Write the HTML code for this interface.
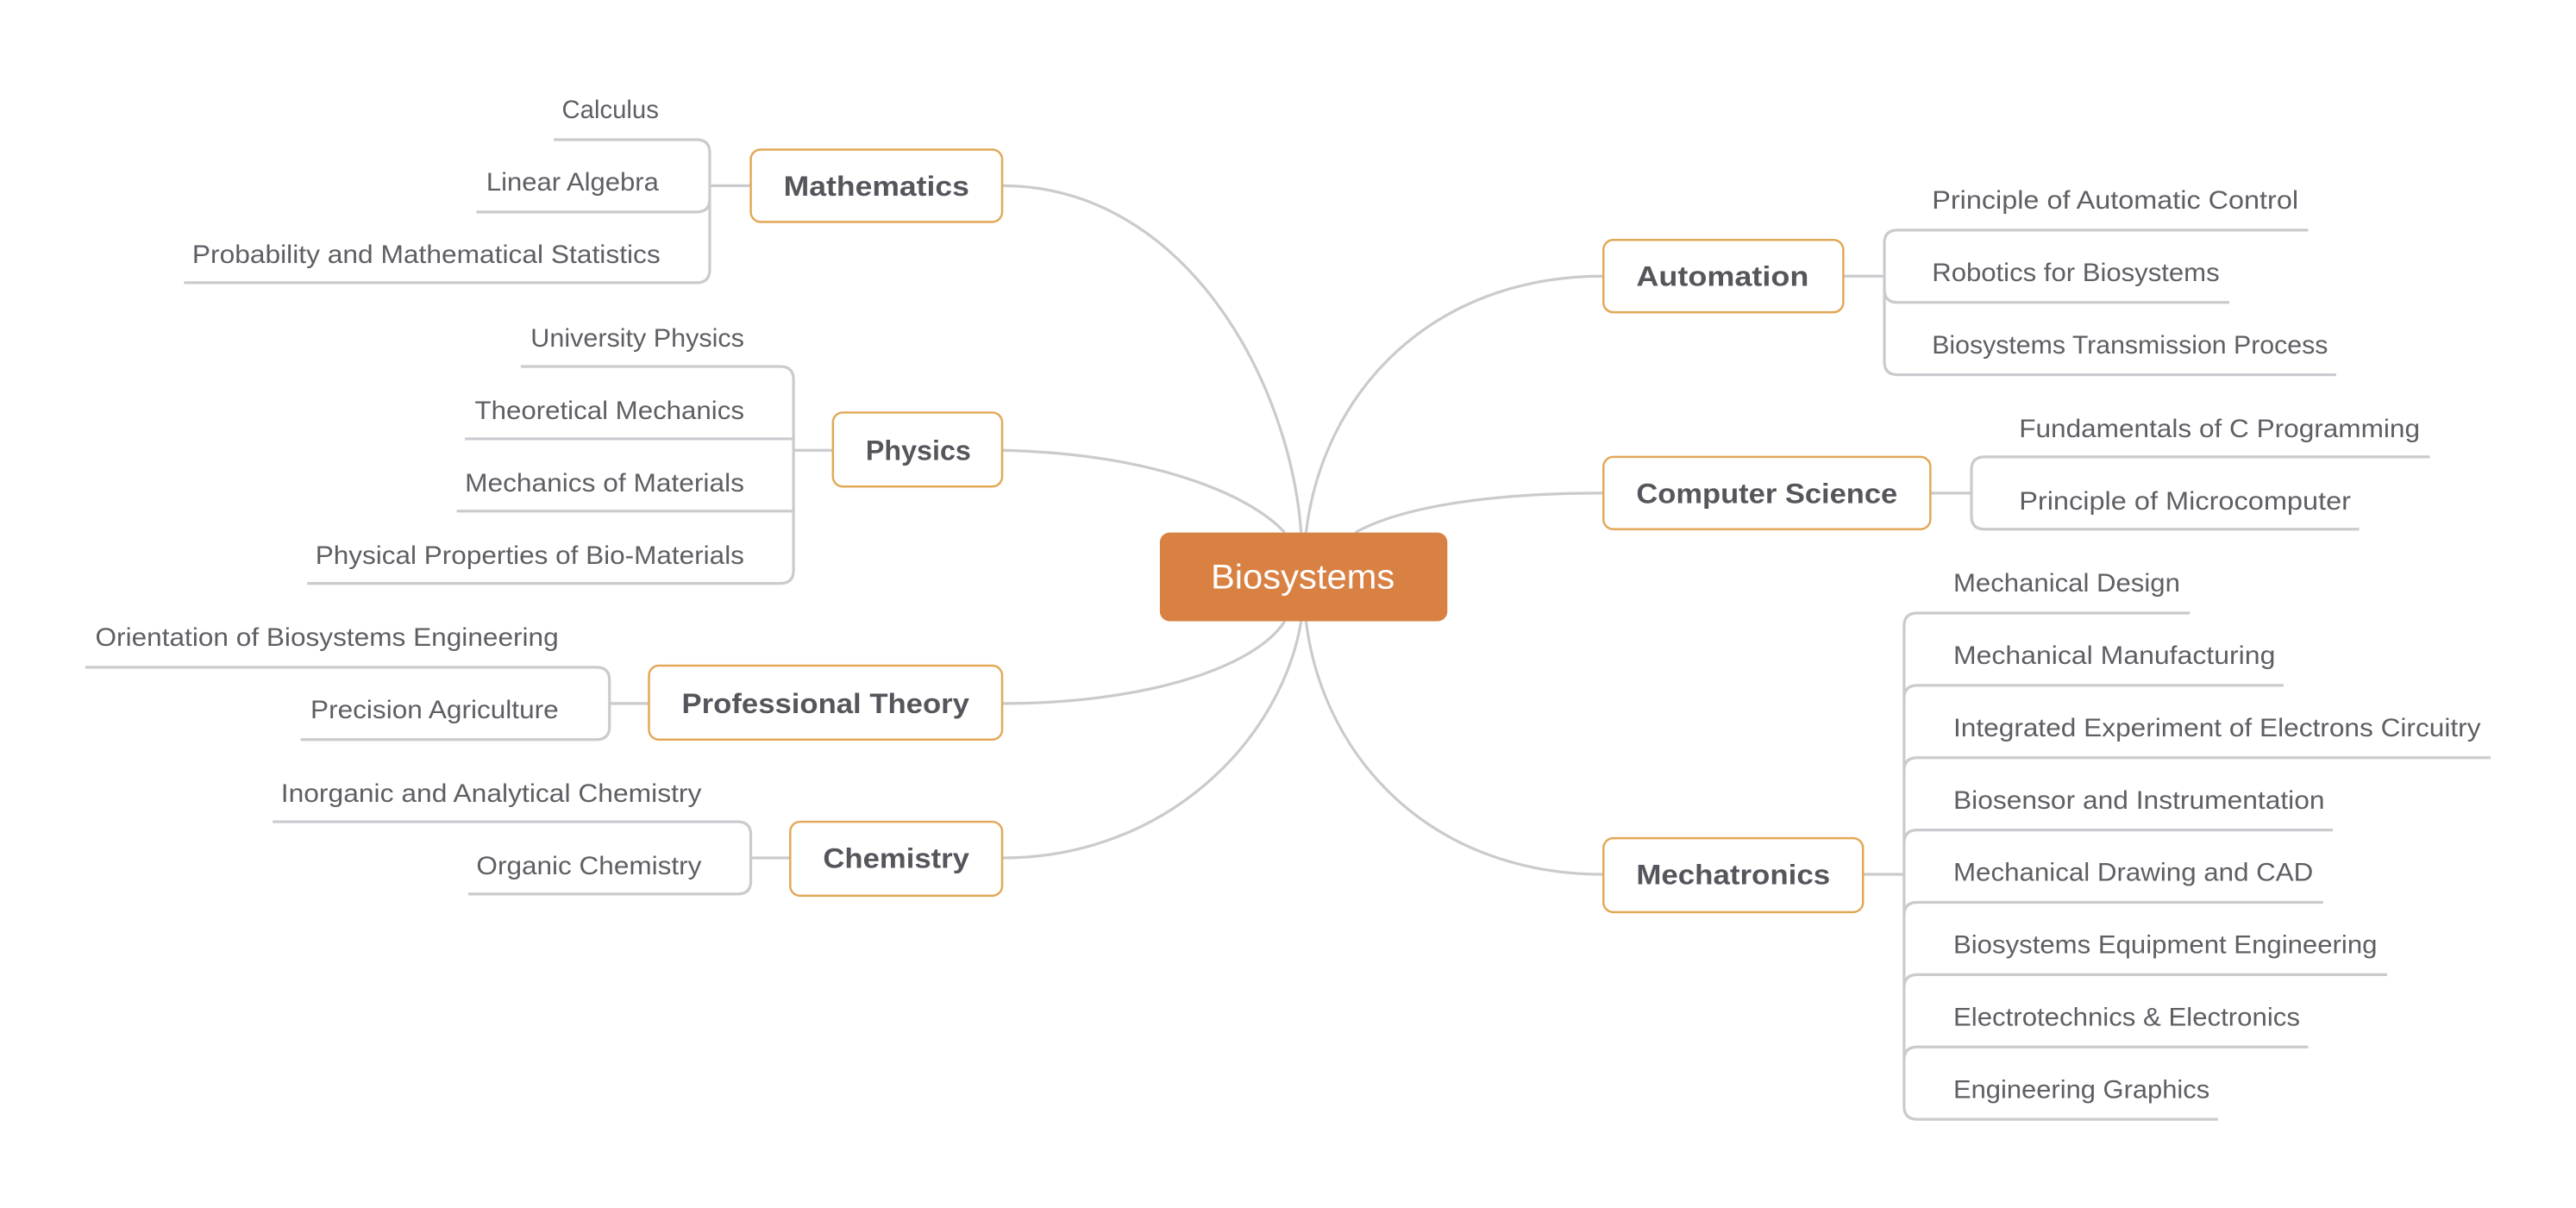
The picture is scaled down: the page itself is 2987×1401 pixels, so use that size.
<!DOCTYPE html>
<html><head><meta charset="utf-8"><style>html,body{margin:0;padding:0;background:#fff}svg{display:block}</style></head>
<body>
<svg width="2987" height="1401" viewBox="0 0 1568 735" preserveAspectRatio="none" xmlns="http://www.w3.org/2000/svg">
<g fill="none" stroke="#CBCBCF" stroke-width="1.7">
<!-- main curves -->
<path d="M610,113 C720,113 785,230 792,324"/>
<path d="M610,274 C700,276 760,300 782,324"/>
<path d="M610,428 C700,428 765,405 782,378"/>
<path d="M610,522 C710,522 780,450 792,378"/>
<path d="M976,168 C870,168 805,240 795,324"/>
<path d="M976,300 C900,300 850,310 825,324"/>
<path d="M976,532 C870,532 805,460 795,378"/>
<!-- Mathematics -->
<path d="M457,113 H432"/>
<path d="M337,85 H424 Q432,85 432,93 V164 Q432,172 424,172 H112"/>
<path d="M290,129 H424 Q432,129 432,121"/>
<!-- Physics -->
<path d="M507,274 H483"/>
<path d="M317,223 H475 Q483,223 483,231 V347 Q483,355 475,355 H187"/>
<path d="M283,267 H483"/><path d="M278,311 H483"/>
<!-- Professional Theory -->
<path d="M395,428 H371"/>
<path d="M52,406 H363 Q371,406 371,414 V442 Q371,450 363,450 H183"/>
<!-- Chemistry -->
<path d="M481,522 H457"/>
<path d="M166,500 H449 Q457,500 457,508 V536 Q457,544 449,544 H285"/>
<!-- Automation -->
<path d="M1122,168 H1147"/>
<path d="M1405,140 H1155 Q1147,140 1147,148 V220 Q1147,228 1155,228 H1422"/>
<path d="M1357,184 H1155 Q1147,184 1147,176"/>
<!-- CS -->
<path d="M1175,300 H1200"/>
<path d="M1479,278 H1208 Q1200,278 1200,286 V314 Q1200,322 1208,322 H1436"/>
<!-- Mechatronics -->
<path d="M1134,532 H1159"/>
<path d="M1333,373 H1167 Q1159,373 1159,381 V673 Q1159,681 1167,681 H1350"/>
<path d="M1390,417 H1167 Q1159,417 1159,425"/>
<path d="M1516,461 H1167 Q1159,461 1159,469"/>
<path d="M1420,505 H1167 Q1159,505 1159,513"/>
<path d="M1414,549 H1167 Q1159,549 1159,557"/>
<path d="M1453,593 H1167 Q1159,593 1159,601"/>
<path d="M1405,637 H1167 Q1159,637 1159,645"/>
</g>
<!-- nodes -->
<g fill="#fff" stroke="#E2A857" stroke-width="1.3">
<rect x="457" y="91" width="153" height="44" rx="6"/>
<rect x="507" y="251" width="103" height="45" rx="6"/>
<rect x="395" y="405" width="215" height="45" rx="6"/>
<rect x="481" y="500" width="129" height="45" rx="6"/>
<rect x="976" y="146" width="146" height="44" rx="6"/>
<rect x="976" y="278" width="199" height="44" rx="6"/>
<rect x="976" y="510" width="158" height="45" rx="6"/>
</g>
<rect x="706" y="324" width="175" height="54" rx="6" fill="#D98143"/>
<text x="737" y="358" font-family="Liberation Sans, sans-serif" font-size="21" fill="#fff" textLength="112" lengthAdjust="spacingAndGlyphs">Biosystems</text>
<g font-family="Liberation Sans, sans-serif" font-size="17" font-weight="bold" fill="#55555C">
<text x="477" y="119" textLength="113" lengthAdjust="spacingAndGlyphs">Mathematics</text>
<text x="527" y="280" textLength="64" lengthAdjust="spacingAndGlyphs">Physics</text>
<text x="415" y="434" textLength="175" lengthAdjust="spacingAndGlyphs">Professional Theory</text>
<text x="501" y="528" textLength="89" lengthAdjust="spacingAndGlyphs">Chemistry</text>
<text x="996" y="174" textLength="105" lengthAdjust="spacingAndGlyphs">Automation</text>
<text x="996" y="306" textLength="159" lengthAdjust="spacingAndGlyphs">Computer Science</text>
<text x="996" y="538" textLength="118" lengthAdjust="spacingAndGlyphs">Mechatronics</text>
</g>
<g font-family="Liberation Sans, sans-serif" font-size="15.5" fill="#5E5E64" lengthAdjust="spacingAndGlyphs">
<text x="342" y="72" textLength="59" lengthAdjust="spacingAndGlyphs">Calculus</text>
<text x="296" y="116" textLength="105" lengthAdjust="spacingAndGlyphs">Linear Algebra</text>
<text x="117" y="160" textLength="285" lengthAdjust="spacingAndGlyphs">Probability and Mathematical Statistics</text>
<text x="323" y="211" textLength="130" lengthAdjust="spacingAndGlyphs">University Physics</text>
<text x="289" y="255" textLength="164" lengthAdjust="spacingAndGlyphs">Theoretical Mechanics</text>
<text x="283" y="299" textLength="170" lengthAdjust="spacingAndGlyphs">Mechanics of Materials</text>
<text x="192" y="343" textLength="261" lengthAdjust="spacingAndGlyphs">Physical Properties of Bio-Materials</text>
<text x="58" y="393" textLength="282" lengthAdjust="spacingAndGlyphs">Orientation of Biosystems Engineering</text>
<text x="189" y="437" textLength="151" lengthAdjust="spacingAndGlyphs">Precision Agriculture</text>
<text x="171" y="488" textLength="256" lengthAdjust="spacingAndGlyphs">Inorganic and Analytical Chemistry</text>
<text x="290" y="532" textLength="137" lengthAdjust="spacingAndGlyphs">Organic Chemistry</text>
<text x="1176" y="127" textLength="223" lengthAdjust="spacingAndGlyphs">Principle of Automatic Control</text>
<text x="1176" y="171" textLength="175" lengthAdjust="spacingAndGlyphs">Robotics for Biosystems</text>
<text x="1176" y="215" textLength="241" lengthAdjust="spacingAndGlyphs">Biosystems Transmission Process</text>
<text x="1229" y="266" textLength="244" lengthAdjust="spacingAndGlyphs">Fundamentals of C Programming</text>
<text x="1229" y="310" textLength="202" lengthAdjust="spacingAndGlyphs">Principle of Microcomputer</text>
<text x="1189" y="360" textLength="138" lengthAdjust="spacingAndGlyphs">Mechanical Design</text>
<text x="1189" y="404" textLength="196" lengthAdjust="spacingAndGlyphs">Mechanical Manufacturing</text>
<text x="1189" y="448" textLength="321" lengthAdjust="spacingAndGlyphs">Integrated Experiment of Electrons Circuitry</text>
<text x="1189" y="492" textLength="226" lengthAdjust="spacingAndGlyphs">Biosensor and Instrumentation</text>
<text x="1189" y="536" textLength="219" lengthAdjust="spacingAndGlyphs">Mechanical Drawing and CAD</text>
<text x="1189" y="580" textLength="258" lengthAdjust="spacingAndGlyphs">Biosystems Equipment Engineering</text>
<text x="1189" y="624" textLength="211" lengthAdjust="spacingAndGlyphs">Electrotechnics &amp; Electronics</text>
<text x="1189" y="668" textLength="156" lengthAdjust="spacingAndGlyphs">Engineering Graphics</text>
</g>
</svg>
</body></html>
